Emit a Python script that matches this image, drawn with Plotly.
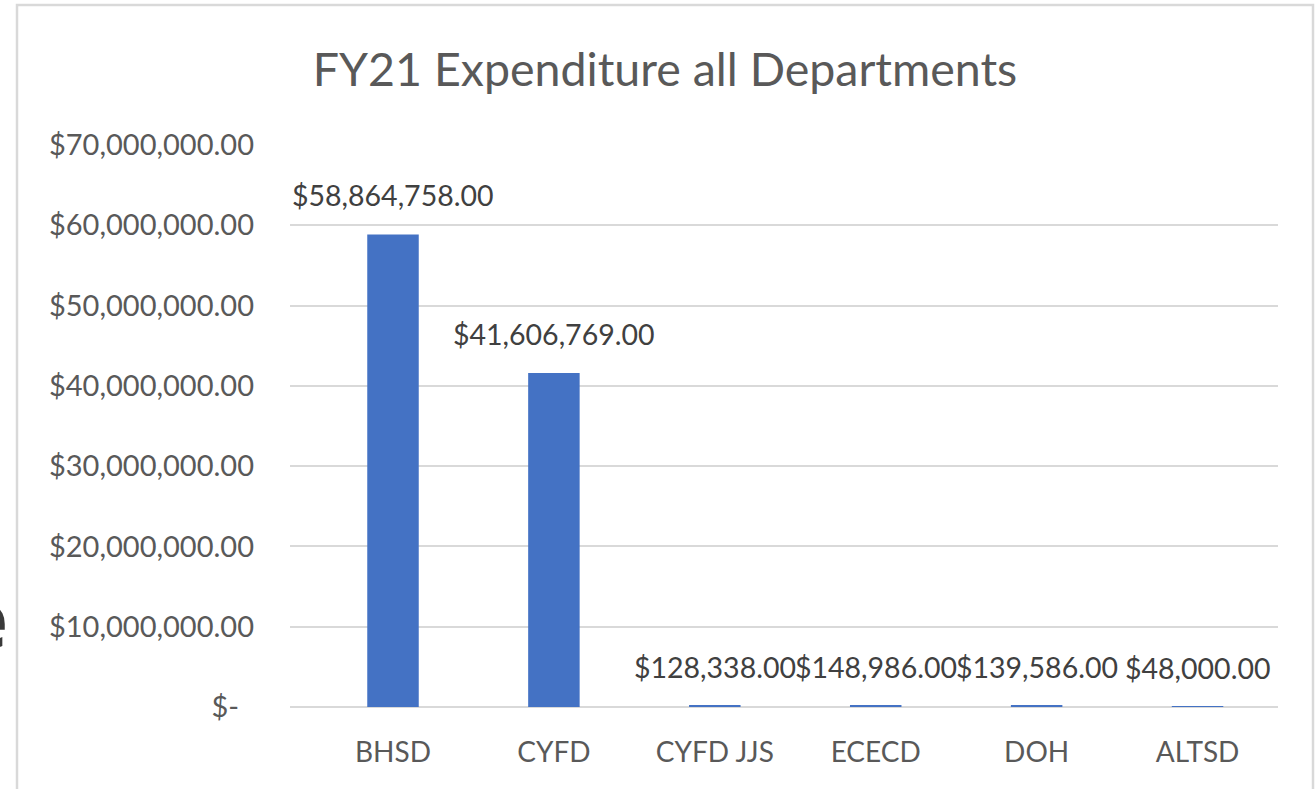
import plotly.graph_objects as go

categories = ["BHSD", "CYFD", "CYFD JJS", "ECECD", "DOH", "ALTSD"]
values = [58864758.00, 41606769.00, 128338.00, 148986.00, 139586.00, 48000.00]
value_labels = ["$58,864,758.00", "$41,606,769.00", "$128,338.00", "$148,986.00", "$139,586.00", "$48,000.00"]
tick_vals = [0, 10000000, 20000000, 30000000, 40000000, 50000000, 60000000, 70000000]
tick_text = ["$-\u00a0\u00a0", "$10,000,000.00", "$20,000,000.00", "$30,000,000.00", "$40,000,000.00",
             "$50,000,000.00", "$60,000,000.00", "$70,000,000.00"]
title_text = "FY21 Expenditure all Departments"

W, H = 1315, 789
L, T = 290, 145
R = W - 1278
B = H - 707
pw, ph = W - L - R, H - T - B

def px_x(p):
    return (p - L) / pw

def px_y(p):
    return (H - B - p) / ph

FONT = "Lato"
FS = 29

fig = go.Figure()
fig.add_trace(go.Bar(
    x=categories, y=values,
    marker=dict(color="#4472C4", line=dict(width=0)),
    width=0.32,
))

for c, v, lab in zip(categories, values, value_labels):
    fig.add_annotation(
        x=c, y=v, xref="x", yref="y", text=lab, showarrow=False,
        yanchor="bottom", yshift=20,
        font=dict(family=FONT, size=FS - 0.5, color="#404040"),
    )

# chart border
fig.add_shape(type="rect", xref="paper", yref="paper",
              x0=px_x(17), x1=px_x(1313), y0=px_y(830), y1=px_y(5),
              line=dict(color="#D9D9D9", width=2.5), fillcolor="rgba(0,0,0,0)", layer="below")

# stray partial letter at the left edge
fig.add_annotation(xref="paper", yref="paper", x=px_x(10), y=px_y(618),
                   xanchor="right", yanchor="middle", text="<b>e</b>", showarrow=False,
                   font=dict(family="Open Sans", size=78, color="#3a3a3a"))

fig.update_layout(
    width=W, height=H,
    margin=dict(l=L, r=R, t=T, b=B),
    paper_bgcolor="white", plot_bgcolor="white",
    showlegend=False,
    title=dict(text=title_text, x=665 / W, xref="container", xanchor="center",
               y=1 - 70 / H, yref="container", yanchor="middle",
               font=dict(family=FONT, size=46.5, color="#595959")),
    xaxis=dict(showgrid=False, showline=False, ticks="", ticklabelstandoff=26,
               tickfont=dict(family=FONT, size=FS - 1, color="#595959")),
    yaxis=dict(range=[0, 70000000], tickvals=tick_vals, ticktext=tick_text,
               showgrid=True, gridcolor="#D9D9D9", gridwidth=1.5,
               zeroline=True, zerolinecolor="#D9D9D9", zerolinewidth=1.5,
               showline=False, ticks="", ticklabelstandoff=35,
               tickfont=dict(family=FONT, size=FS, color="#595959")),
)

fig.write_html("out.html", config={"displayModeBar": False},
               post_script="document.body.style.margin='0';document.body.style.overflow='hidden';")
